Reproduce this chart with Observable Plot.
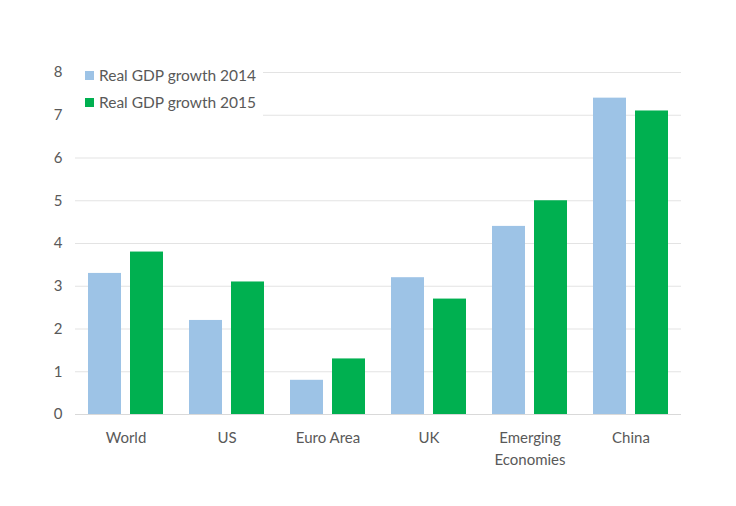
<!DOCTYPE html>
<html>
<head>
<meta charset="utf-8">
<script src="https://cdn.jsdelivr.net/npm/d3@7"></script>
<script src="https://cdn.jsdelivr.net/npm/@observablehq/plot@0.6"></script>
<style>
  html, body { margin: 0; padding: 0; background: white; }
  #wrap { position: relative; width: 736px; height: 506px; font-family: Lato, "Open Sans", sans-serif; }
  #legend { position: absolute; left: 73px; top: 62px; width: 190px; height: 56px; background: white; color: #595959; font-size: 15.5px; }
  .item { position: absolute; left: 12px; display: flex; align-items: center; white-space: nowrap; }
  .sw { width: 9px; height: 9px; margin-right: 5px; }
</style>
</head>
<body>
<div id="wrap"><div id="chart"></div><div id="legend"></div></div>
<script>
const categories = ["World", "US", "Euro Area", "UK", "Emerging Economies", "China"];
const categoryLabels = ["World", "US", "Euro Area", "UK", "Emerging\nEconomies", "China"];
const growth2014 = [3.3, 2.2, 0.8, 3.2, 4.4, 7.4];
const growth2015 = [3.8, 3.1, 1.3, 2.7, 5.0, 7.1];
const seriesNames = ["Real GDP growth 2014", "Real GDP growth 2015"];
const seriesColors = ["#9DC3E6", "#00B050"];
const yTicks = [0, 1, 2, 3, 4, 5, 6, 7, 8];

const data = [];
categories.forEach((c, i) => {
  data.push({category: c, series: seriesNames[0], value: growth2014[i]});
  data.push({category: c, series: seriesNames[1], value: growth2015[i]});
});

const chart = Plot.plot({
  width: 736,
  height: 506,
  marginLeft: 73,
  marginRight: 54,
  marginTop: 72,
  marginBottom: 92,
  fx: {domain: categories, padding: 0, label: null},
  x: {domain: seriesNames, paddingInner: 0.213, paddingOuter: 0.306, axis: null},
  y: {domain: [0, 8], label: null},
  color: {domain: seriesNames, range: seriesColors},
  style: {fontFamily: "Lato, 'Open Sans', sans-serif", fontSize: "15px", color: "#595959", background: "white"},
  marks: [
    Plot.gridY(yTicks, {stroke: "#e3e3e3", strokeOpacity: 1}),
    Plot.axisY(yTicks, {tickSize: 0, tickPadding: 13, label: null}),
    Plot.barY(data, {fx: "category", x: "series", y: "value", fill: "series"}),
    Plot.ruleY([0], {stroke: "#d9d9d9"}),
    Plot.axisFx({anchor: "bottom", tickSize: 0, tickPadding: 13, lineHeight: 1.45, label: null,
      tickFormat: d => categoryLabels[categories.indexOf(d)]})
  ]
});
document.getElementById("chart").appendChild(chart);

const legend = document.getElementById("legend");
seriesNames.forEach((name, i) => {
  const item = document.createElement("div");
  item.className = "item";
  item.style.top = (i === 0 ? 4 : 31) + "px";
  const sw = document.createElement("div");
  sw.className = "sw";
  sw.style.background = seriesColors[i];
  const label = document.createElement("span");
  label.textContent = name;
  item.appendChild(sw);
  item.appendChild(label);
  legend.appendChild(item);
});
</script>
</body>
</html>
